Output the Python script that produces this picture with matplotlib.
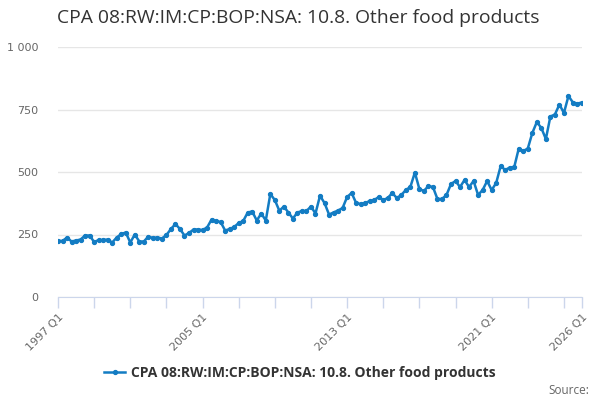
import matplotlib
matplotlib.use("Agg")
import matplotlib.pyplot as plt

# Quarterly values, 1997 Q1 .. 2026 Q1
years = list(range(1997, 2027))
quarters = [f"{y} Q{q}" for y in years for q in range(1, 5)][:117]
values = [
    225, 224, 238, 222, 226, 230, 246, 246, 220, 228,
    228, 230, 218, 238, 252, 258, 218, 250, 222, 222,
    242, 236, 238, 234, 248, 272, 292, 272, 246, 256,
    270, 270, 268, 278, 310, 304, 300, 266, 272, 280,
    296, 304, 338, 342, 306, 334, 306, 412, 388, 345,
    362, 338, 314, 338, 344, 344, 362, 334, 405, 376,
    330, 338, 346, 356, 400, 416, 376, 372, 376, 384,
    388, 400, 388, 396, 416, 396, 408, 428, 440, 498,
    432, 424, 444, 440, 392, 392, 408, 452, 464, 440,
    468, 440, 464, 408, 428, 464, 428, 456, 524, 508,
    518, 520, 594, 584, 594, 656, 700, 676, 632, 722,
    730, 770, 736, 804, 778, 774, 778,
]
labelled = ["1997 Q1", "2005 Q1", "2013 Q1", "2021 Q1", "2026 Q1"]
y_ticks = [0, 250, 500, 750, 1000]
y_labels = ["0", "250", "500", "750", "1 000"]
title = "CPA 08:RW:IM:CP:BOP:NSA: 10.8. Other food products"

line_color = "#137cc3"
axis_color = "#ccd6eb"

fig = plt.figure(figsize=(6, 4), dpi=100)
ax = fig.add_axes([58 / 600, 103 / 400, 524 / 600, 250 / 400])

x = list(range(len(values)))
ax.plot(x, values, color=line_color, lw=1.8, marker="o", ms=2.8, label=title)

ax.set_xlim(0, len(values) - 1)
ax.set_ylim(0, 1000)
ax.set_yticks(y_ticks)
ax.set_yticklabels(y_labels, color="#666666", fontsize=8)
ax.tick_params(axis="y", length=0, pad=14)
ax.grid(axis="y", color="#e6e6e6", lw=1)
ax.set_axisbelow(True)

major = list(range(0, len(values), 8)) + [len(values) - 1]
ax.set_xticks(major)
ax.set_xticklabels([q if q in labelled else "" for q in [quarters[i] for i in major]],
                   rotation=45, ha="right", va="top", rotation_mode="anchor",
                   color="#666666", fontsize=8)
ax.tick_params(axis="x", length=8, color=axis_color, width=1, pad=3)

for s in ["top", "right", "left"]:
    ax.spines[s].set_visible(False)
ax.spines["bottom"].set_color(axis_color)

fig.text(57 / 600, 1 - 18 / 400, title, fontsize=13.9, color="#333333",
         va="center", ha="left", family="Open Sans")

leg = fig.legend(loc="center", bbox_to_anchor=(0.5, 1 - 373 / 400), frameon=False,
                 handlelength=1.5, handletextpad=0.4,
                 prop={"weight": "bold", "size": 10, "family": "Open Sans"})
for t in leg.get_texts():
    t.set_color("#333333")

fig.text(589 / 600, 1 - 390 / 400, "Source:", fontsize=8.5, color="#666666",
         ha="right", va="center", family="Open Sans")

fig.savefig("out.png", dpi=100)
